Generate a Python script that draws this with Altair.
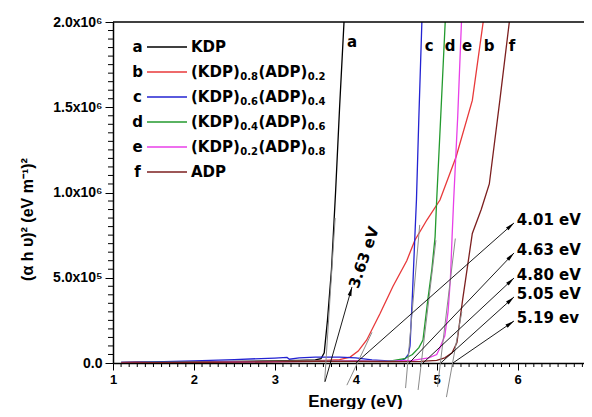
import math
import altair as alt
import pandas as pd

# ---------------- data ----------------
series_keys = ["a", "b", "c", "d", "e", "f"]
series_names = ["KDP", "(KDP)0.8(ADP)0.2", "(KDP)0.6(ADP)0.4",
                "(KDP)0.4(ADP)0.6", "(KDP)0.2(ADP)0.8", "ADP"]
series_colors = ["#000000", "#e8393a", "#2323d2", "#239a2e", "#e83fe8", "#7c1f1f"]

a_x = [1.1, 1.5, 2.0, 2.5, 3.0, 3.3, 3.5, 3.57, 3.61, 3.65, 3.70, 3.75, 3.80, 3.86]
a_y = [3e3, 4e3, 6e3, 9e3, 1.2e4, 1.5e4, 1.8e4, 2.5e4, 6e4, 2.5e5, 5.5e5, 1.0e6, 1.5e6, 2.05e6]

b_x = [1.1, 1.3, 1.5, 2.0, 2.5, 3.0, 3.5, 3.8, 3.93, 4.03, 4.135, 4.30, 4.46, 4.63, 4.73,
       4.88, 5.04, 5.24, 5.44, 5.58]
b_y = [2e3, 6e3, 4e3, 5e3, 7e3, 9e3, 1.2e4, 2e4, 3.5e4, 7e4, 1.35e5, 2.9e5, 4.5e5, 6.0e5,
       7.2e5, 8.4e5, 9.56e5, 1.21e6, 1.54e6, 2.02e6]

c_x = [1.1, 1.5, 2.0, 2.5, 3.0, 3.15, 3.18, 3.3, 3.5, 3.8, 4.0, 4.2, 4.4, 4.55, 4.61, 4.65,
       4.67, 4.70, 4.73, 4.75, 4.78, 4.82]
c_y = [3e3, 6e3, 1.2e4, 2.0e4, 2.9e4, 3.3e4, 2.2e4, 3.0e4, 3.4e4, 3.4e4, 3.0e4, 1.8e4,
       1.2e4, 1.3e4, 2.5e4, 5e4, 1e5, 4e5, 7.4e5, 9.6e5, 1.45e6, 2.05e6]

d_x = [1.1, 1.5, 2.0, 2.5, 3.0, 3.5, 4.0, 4.4, 4.6, 4.7, 4.78, 4.83, 4.89, 4.94, 4.98,
       5.0, 5.05, 5.11]
d_y = [2e3, 3e3, 5e3, 7e3, 9e3, 1.1e4, 1.2e4, 1e4, 2.5e4, 5e4, 9e4, 1.35e5, 3.7e5, 5.5e5,
       7.4e5, 9.6e5, 1.45e6, 2.05e6]

e_x = [1.1, 1.5, 2.0, 2.5, 3.0, 3.5, 4.0, 4.4, 4.7, 4.9, 5.0, 5.04, 5.10, 5.14, 5.17,
       5.19, 5.21, 5.26, 5.31]
e_y = [1e3, 2e3, 4e3, 6e3, 8e3, 1e4, 1.2e4, 1e4, 1.5e4, 3e4, 5e4, 9e4, 1.6e5, 3e5, 5e5,
       7.4e5, 9.6e5, 1.45e6, 2.05e6]

f_x = [1.1, 1.5, 2.0, 2.5, 3.0, 3.5, 4.0, 4.4, 4.8, 5.0, 5.1, 5.19, 5.25, 5.32, 5.44,
       5.55, 5.59, 5.65, 5.78, 5.91]
f_y = [1e3, 2e3, 3e3, 5e3, 7e3, 9e3, 1e4, 8e3, 1e4, 1.5e4, 3e4, 6e4, 1.2e5, 3.7e5, 7.6e5,
       9e5, 9.6e5, 1.05e6, 1.54e6, 2.05e6]

# extrapolated tangent lines (grey)
tan_x0 = [3.615, 3.89, 4.615, 4.77, 5.01, 5.12]
tan_y0 = [-1.1e5, -1.3e5, -1.47e5, -1.58e5, -1.4e5, -2.0e5]
tan_x1 = [3.745, 4.20, 4.79, 4.99, 5.23, 5.31]
tan_y1 = [8.5e5, 1.8e5, 8.1e5, 7.2e5, 7.3e5, 3.0e5]

# band-gap annotations
gap_labels = ["4.01 eV", "4.63 eV", "4.80 eV", "5.05 eV", "5.19 ev"]
gap_from_x = [4.00, 4.66, 4.83, 5.05, 5.20]
gap_label_y = [8.39e5, 6.63e5, 5.16e5, 4.05e5, 2.64e5]
kdp_gap_label = "3.63 eV"

# axis ticks
x_major = [1, 2, 3, 4, 5, 6]
y_major = [0, 500000, 1000000, 1500000, 2000000]
y_major_labels = ["0.0", "5.0x10⁵", "1.0x10⁶", "1.5x10⁶", "2.0x10⁶"]

# ---------------- layout helpers ----------------
X_MIN, X_MAX = 1.0, 6.82
Y_MIN, Y_MAX = 0.0, 2.0e6
W, H = 471, 341
sx = W / (X_MAX - X_MIN)
sy = H / (Y_MAX - Y_MIN)


def dxp(px):
    return px / sx


def dyp(px):
    return px / sy


xs = alt.Scale(domain=[X_MIN, X_MAX], nice=False, zero=False)
ys = alt.Scale(domain=[Y_MIN, Y_MAX], nice=False, zero=False)
cs = alt.Scale(domain=series_keys, range=series_colors)

ylab_expr = " : ".join(
    f"datum.value == {v} ? '{t}'" for v, t in zip(y_major, y_major_labels)
) + " : ''"

x_axis = alt.Axis(
    values=x_major, format="d", tickSize=7, tickWidth=1,
    labelFontSize=13, labelPadding=3, labelFlush=False, labelOverlap=False,
    title="Energy (eV)", titleFontSize=17, titleX=242, titleY=38, titleBaseline="middle",
    grid=False, domainWidth=1.5,
)
y_axis = alt.Axis(
    values=y_major, labelExpr=ylab_expr, tickSize=8, tickWidth=1,
    labelFontSize=14, labelPadding=3, labelFlush=False, labelOverlap=False,
    title="(α h υ)² (eV m⁻¹)²", titleFontSize=16, titleAngle=-90, titleX=-86, titleY=197,
    titleAlign="center", titleBaseline="middle",
    grid=False, domainWidth=1.5,
)


def X(f="x"):
    return alt.X(f"{f}:Q", scale=xs, axis=x_axis)


def Y(f="y"):
    return alt.Y(f"{f}:Q", scale=ys, axis=y_axis)


# ---------------- curves ----------------
rows = []
for k, xx, yy in zip(series_keys, [a_x, b_x, c_x, d_x, e_x, f_x],
                     [a_y, b_y, c_y, d_y, e_y, f_y]):
    for i, (x, y) in enumerate(zip(xx, yy)):
        rows.append({"s": k, "x": x, "y": y, "o": i})
curves_df = pd.DataFrame(rows)

curves = alt.Chart(curves_df).mark_line(strokeWidth=1.3, clip=True).encode(
    x=X(), y=Y(),
    color=alt.Color("s:N", scale=cs, legend=None),
    detail="s:N",
    order="o:Q",
)

# minor ticks (drawn outside the frame, like the axis' own ticks)
x_minor = [round(1.0 + 0.1 * i, 1) for i in range(59) if i % 10 != 0]
y_minor = [v for v in range(0, 2000001, 50000) if v % 500000 != 0]
xminor_df = pd.DataFrame({"x": x_minor, "y": [Y_MIN] * len(x_minor),
                          "y2": [Y_MIN - dyp(4)] * len(x_minor)})
yminor_df = pd.DataFrame({"y": y_minor, "x": [X_MIN] * len(y_minor),
                          "x2": [X_MIN - dxp(5)] * len(y_minor)})
xminor = alt.Chart(xminor_df).mark_rule(color="black", strokeWidth=1).encode(
    x=X(), y=Y(), y2="y2:Q")
yminor = alt.Chart(yminor_df).mark_rule(color="black", strokeWidth=1).encode(
    x=X(), x2="x2:Q", y=Y())

# ---------------- tangents ----------------
tan_df = pd.DataFrame({"x": tan_x0, "y": tan_y0, "x2": tan_x1, "y2": tan_y1})
tangents = alt.Chart(tan_df).mark_rule(color="#8a8a8a", strokeWidth=1).encode(
    x=X(), y=Y(), x2="x2:Q", y2="y2:Q",
)

# ---------------- arrows ----------------
arr_x0 = [3.62] + gap_from_x
arr_y0 = [-1.1e5] + [0.0] * len(gap_from_x)
arr_x1 = [3.953] + [5.955] * len(gap_from_x)
arr_y1 = [4.46e5] + [v - dyp(3) for v in gap_label_y]

head_rows = []
for x0, y0, x1, y1 in zip(arr_x0, arr_y0, arr_x1, arr_y1):
    ddx = (x1 - x0) * sx
    ddy = -(y1 - y0) * sy
    n = math.hypot(ddx, ddy)
    ux, uy = ddx / n, ddy / n
    ang = math.degrees(math.atan2(ddx, -ddy)) % 360
    head_rows.append({"x": x1 - 4.5 * ux / sx, "y": y1 + 4.5 * uy / sy, "ang": ang})

arr_df = pd.DataFrame({"x": arr_x0, "y": arr_y0, "x2": arr_x1, "y2": arr_y1})
arrows = alt.Chart(arr_df).mark_rule(color="black", strokeWidth=0.9).encode(
    x=X(), y=Y(), x2="x2:Q", y2="y2:Q",
)
heads = alt.Chart(pd.DataFrame(head_rows)).mark_point(
    shape="M0,-1L0.42,1L-0.42,1Z", filled=True, color="black", opacity=1, size=81,
    strokeWidth=0,
).encode(x=X(), y=Y(), angle=alt.Angle("ang:Q", scale=None))

FONT = "DejaVu Sans"
gap_df = pd.DataFrame({"x": [5.99] * len(gap_labels), "y": gap_label_y, "t": gap_labels})
gap_text = alt.Chart(gap_df).mark_text(
    align="left", baseline="middle", font=FONT, fontWeight="bold", fontSize=15, color="black"
).encode(x=X(), y=Y(), text="t:N")

kdp_text = alt.Chart(pd.DataFrame({"x": [4.101], "y": [6.19e5], "t": [kdp_gap_label]})).mark_text(
    align="center", baseline="middle", font=FONT, fontWeight="bold", fontSize=15,
    color="black", angle=289,
).encode(x=X(), y=Y(), text="t:N")

# letters near curve tops
letter_x = [3.954, 5.648, 4.906, 5.166, 5.376, 5.932]
letter_y = [1.883e6, 1.859e6, 1.859e6, 1.859e6, 1.859e6, 1.859e6]
letters = alt.Chart(pd.DataFrame({"x": letter_x, "y": letter_y, "t": series_keys})).mark_text(
    align="center", baseline="middle", font=FONT, fontWeight="bold", fontSize=15, color="black"
).encode(x=X(), y=Y(), text="t:N")

# ---------------- legend (manual, with subscripts) ----------------
row_px = [47, 72, 97, 122, 147, 172]
row_y = [Y_MAX - dyp(p - 22) for p in row_px]
leg_letter_x = X_MIN + dxp(137.5 - 113)
leg_line_x0 = X_MIN + dxp(147 - 113)
leg_line_x1 = X_MIN + dxp(187 - 113)
leg_text_x = X_MIN + dxp(191 - 113)

leg_letters = alt.Chart(pd.DataFrame({"x": [leg_letter_x] * 6, "y": row_y, "t": series_keys})).mark_text(
    align="center", baseline="middle", font=FONT, fontWeight="bold", fontSize=15, color="black"
).encode(x=X(), y=Y(), text="t:N")

leg_lines = alt.Chart(pd.DataFrame({"x": [leg_line_x0] * 6, "x2": [leg_line_x1] * 6,
                                    "y": row_y, "s": series_keys})).mark_rule(strokeWidth=1.3).encode(
    x=X(), x2="x2:Q", y=Y(), color=alt.Color("s:N", scale=cs, legend=None),
)

# widths (em) for DejaVu Sans Bold to lay out subscript pieces
cw = {"(": 0.457, ")": 0.457, "K": 0.775, "D": 0.830, "P": 0.733, "A": 0.774,
      "0": 0.696, "2": 0.696, "4": 0.696, "6": 0.696, "8": 0.696, ".": 0.380}


def tw(s, size):
    return sum(cw.get(c, 0.7) for c in s) * size


main_rows, sub_rows = [], []
for name, yv in zip(series_names, row_y):
    if name in ("KDP", "ADP"):
        main_rows.append({"x": leg_text_x, "y": yv, "t": name})
        continue
    sub1, sub2 = name[5:8], name[13:16]
    pieces = [("(KDP)", False), (sub1, True), ("(ADP)", False), (sub2, True)]
    cur = 0.0
    for txt, is_sub in pieces:
        if is_sub:
            sub_rows.append({"x": leg_text_x + dxp(cur + 0.5), "y": yv - dyp(5), "t": txt})
            cur += tw(txt, 10) + 1
        else:
            main_rows.append({"x": leg_text_x + dxp(cur), "y": yv, "t": txt})
            cur += tw(txt, 15)

leg_main = alt.Chart(pd.DataFrame(main_rows)).mark_text(
    align="left", baseline="middle", font=FONT, fontWeight="bold", fontSize=15, color="black"
).encode(x=X(), y=Y(), text="t:N")
leg_sub = alt.Chart(pd.DataFrame(sub_rows)).mark_text(
    align="left", baseline="middle", font=FONT, fontWeight="bold", fontSize=10, color="black"
).encode(x=X(), y=Y(), text="t:N")

# top frame line
top_line = alt.Chart(pd.DataFrame({"y": [Y_MAX]})).mark_rule(color="black", strokeWidth=1.5).encode(
    y=Y()
)

chart = alt.layer(
    curves, xminor, yminor, tangents, arrows, heads, gap_text, kdp_text, letters,
    leg_lines, leg_letters, leg_main, leg_sub, top_line,
).properties(
    width=W, height=H,
    autosize=alt.AutoSizeParams(type="none"),
    padding={"left": 105, "top": 14, "right": 0, "bottom": 46},
).configure_view(stroke=None).configure_axis(
    labelFont="Liberation Sans", titleFont="Liberation Sans",
    labelFontWeight="bold", titleFontWeight="bold",
    labelColor="black", titleColor="black", domainColor="black", tickColor="black",
)

chart.save("out.html", embed_options={"renderer": "svg", "actions": False})
